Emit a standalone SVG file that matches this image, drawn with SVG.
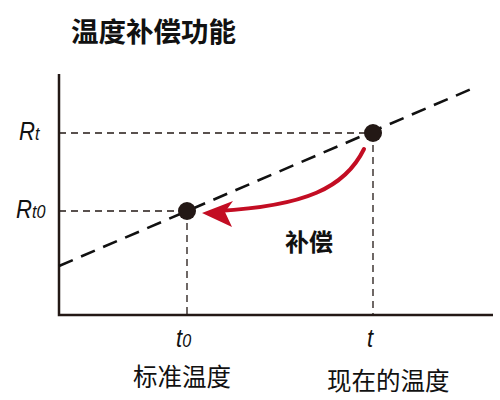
<svg xmlns="http://www.w3.org/2000/svg" width="500" height="400" viewBox="0 0 500 400">
<defs>
<style>
.axis{stroke:#231815;stroke-width:2.5;fill:none}
.dash{stroke:#231815;stroke-width:1.3;stroke-dasharray:7,5;fill:none}
.diag{stroke:#111;stroke-width:2.6;stroke-dasharray:15,9;fill:none}
.dot{fill:#231815}
.cjk{font-family:"Noto Sans CJK SC","Noto Sans",sans-serif;fill:#111}
.var{font-family:"Liberation Sans",Arial,sans-serif;font-style:italic;fill:#111}
</style>
</defs>
<rect width="500" height="400" fill="#fff"/>
<text class="cjk" x="71" y="42" font-size="27.5" font-weight="bold">温度补偿功能</text>
<g id="connectors">
<path class="axis" d="M59,74 V315 H493"/>
<path class="dash" d="M59,133 H373 M59,211 H187 M187,211 V315 M373,133 V315"/>
<path class="diag" d="M59,266 L476,87"/>
<path d="M364,149 C345,188 305,206 218,211" stroke="#c30d23" stroke-width="4" fill="none" stroke-linecap="round"/>
<path d="M202,213 L233,201 L225,212 L232,227 Z" fill="#c30d23"/>
</g>
<g id="dot-t0"><circle class="dot" cx="187" cy="211" r="9"/></g>
<g id="dot-t"><circle class="dot" cx="373" cy="133" r="9"/></g>
<g id="label-Rt"><text class="var" transform="translate(19,140) scale(0.85,1)" font-size="26">R<tspan font-size="19">t</tspan></text></g>
<g id="label-Rt0"><text class="var" transform="translate(16,218) scale(0.85,1)" font-size="26">R<tspan font-size="19">t0</tspan></text></g>
<g id="label-t0"><text class="var" transform="translate(176,347) scale(0.85,1)" font-size="26">t<tspan font-size="19">0</tspan></text></g>
<g id="label-t"><text class="var" transform="translate(367,347) scale(0.85,1)" font-size="26">t</text></g>
<g id="label-comp"><text class="cjk" x="285" y="251" font-size="24" font-weight="bold">补偿</text></g>
<g id="label-std"><text class="cjk" x="133" y="386" font-size="24.5">标准温度</text></g>
<g id="label-now"><text class="cjk" x="327" y="390" font-size="24.5">现在的温度</text></g>
</svg>
